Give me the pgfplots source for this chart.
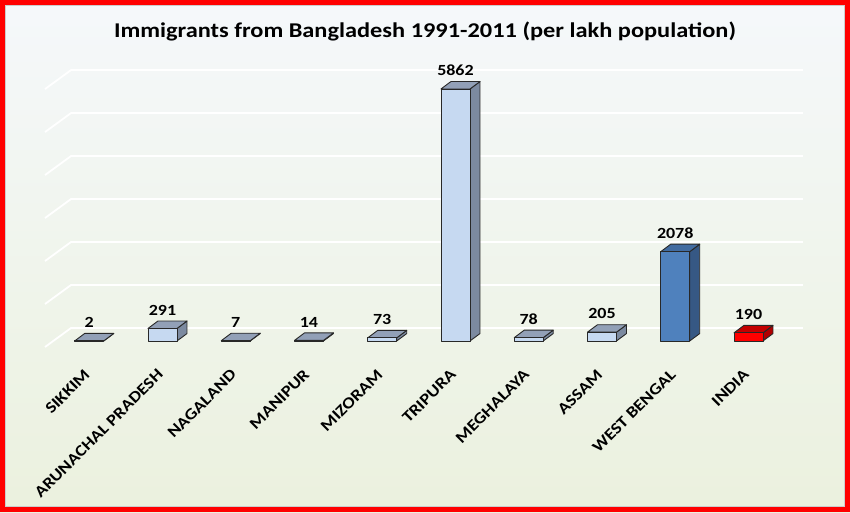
\documentclass[border=0pt]{standalone}
\usepackage{pgfplots}
\pgfplotsset{compat=1.18}
\usepackage{pgfplotstable}
\usepackage{fontspec}
\setmainfont{Carlito}[FakeStretch=1.16]

\definecolor{bgtop}{RGB}{245,248,251}
\definecolor{bgbot}{RGB}{235,241,222}
\definecolor{lightfront}{RGB}{198,217,241}
\definecolor{lighttop}{RGB}{146,160,183}
\definecolor{lightside}{RGB}{124,138,160}
\definecolor{wbfront}{RGB}{79,129,189}
\definecolor{wbtop}{RGB}{66,108,160}
\definecolor{wbside}{RGB}{54,88,132}
\definecolor{infront}{RGB}{255,0,0}
\definecolor{intop}{RGB}{196,0,0}
\definecolor{inside}{RGB}{176,0,0}
\definecolor{edge}{RGB}{40,40,40}

\pgfplotstableread{
idx value
0 2
1 291
2 7
3 14
4 73
5 5862
6 78
7 205
8 2078
9 190
}\data

% 3D bar: #1 index, #2 value, #3 front, #4 top, #5 side
\newcommand{\tdbar}[5]{%
  \pgfmathsetmacro\xl{#1-0.198}%
  \pgfmathsetmacro\xr{#1+0.198}%
  \pgfmathsetmacro\xlb{#1-0.198+0.1365}%
  \pgfmathsetmacro\xrb{#1+0.198+0.1365}%
  \pgfmathsetmacro\vt{#2+174}%
  \edef\tdtemp{%
    \noexpand\addplot[fill=#5, draw=edge, line width=0.9pt, line join=round] coordinates {(\xr,0) (\xrb,174) (\xrb,\vt) (\xr,#2)} -- cycle;
    \noexpand\addplot[fill=#4, draw=edge, line width=0.9pt, line join=round] coordinates {(\xl,#2) (\xr,#2) (\xrb,\vt) (\xlb,\vt)} -- cycle;
    \noexpand\addplot[fill=#3, draw=edge, line width=0.9pt, line join=round] coordinates {(\xl,0) (\xr,0) (\xr,#2) (\xl,#2)} -- cycle;
  }%
  \tdtemp
}

\newcommand{\gridl}[1]{%
  \pgfmathsetmacro\ga{-140+#1}%
  \pgfmathsetmacro\gb{302+#1}%
  \edef\tdtemp{%
    \noexpand\addplot[white, line width=1.8pt] coordinates {(-0.604,\ga) (-0.249,\gb) (9.744,\gb)};
  }%
  \tdtemp
}

\begin{document}
\begin{tikzpicture}
\begin{axis}[
  at={(0,0)}, anchor=south west,
  scale only axis, width=850pt, height=512pt,
  xmin=-1.2184, xmax=10.386,
  ymin=-3978, ymax=7932,
  axis line style={draw=none},
  axis background/.style={shade, top color=bgtop, bottom color=bgbot},
  major tick length=0pt,
  ytick=\empty,
  xtick={0,...,9},
  xticklabels={SIKKIM, ARUNACHAL PRADESH, NAGALAND, MANIPUR, MIZORAM, TRIPURA, MEGHALAYA, ASSAM, WEST BENGAL, INDIA},
  xticklabel style={yshift=144pt, xshift=-6pt, rotate=45, anchor=north east, inner sep=0pt, font=\bfseries\fontsize{16}{16}\selectfont},
  clip=false,
]
\gridl{0}
\gridl{1000}
\gridl{2000}
\gridl{3000}
\gridl{4000}
\gridl{5000}
\gridl{6000}

\tdbar{0}{2}{lightfront}{lighttop}{lightside}
\tdbar{1}{291}{lightfront}{lighttop}{lightside}
\tdbar{2}{7}{lightfront}{lighttop}{lightside}
\tdbar{3}{14}{lightfront}{lighttop}{lightside}
\tdbar{4}{73}{lightfront}{lighttop}{lightside}
\tdbar{5}{5862}{lightfront}{lighttop}{lightside}
\tdbar{6}{78}{lightfront}{lighttop}{lightside}
\tdbar{7}{205}{lightfront}{lighttop}{lightside}
\tdbar{8}{2078}{wbfront}{wbtop}{wbside}
\tdbar{9}{190}{infront}{intop}{inside}

\addplot[draw=none, mark=none, point meta=explicit symbolic, nodes near coords,
  every node near coord/.append style={font=\bfseries\fontsize{15.5}{16}\selectfont, inner sep=0pt, text=black}]
  table[x=idx, y expr=\thisrow{value}+302, meta=value] {\data};

\node[anchor=base, inner sep=0pt, font=\bfseries\fontsize{21}{24}\selectfont] at (rel axis cs:0.5,0.9258) {Immigrants from Bangladesh 1991-2011 (per lakh population)};
\end{axis}
\draw[red, line width=5pt] (2.5pt,2.5pt) rectangle (847.5pt,509.5pt);
\draw[black!20, line width=0.6pt] (5.3pt,5.3pt) rectangle (844.7pt,506.7pt);
\pgfresetboundingbox
\path (0,0) rectangle (850pt,512pt);
\end{tikzpicture}
\end{document}
